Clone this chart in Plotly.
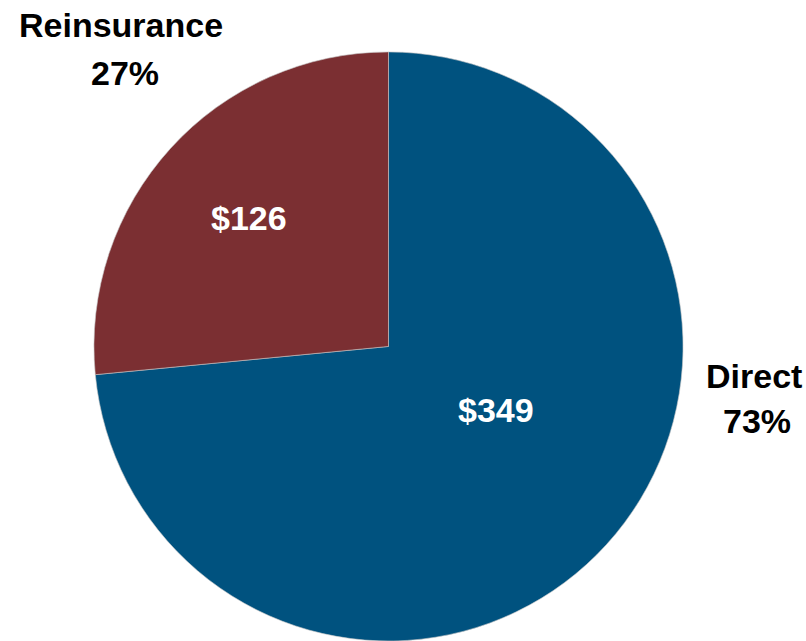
import plotly.graph_objects as go

labels = ["Direct", "Reinsurance"]
values = [349, 126]
colors = ["#00527F", "#7B2F32"]

total = sum(values)
pcts = [round(v / total * 100) for v in values]

fig = go.Figure()
fig.add_trace(go.Pie(
    labels=labels,
    values=values,
    sort=False,
    direction="clockwise",
    rotation=0,
    marker=dict(colors=colors, line=dict(color="#C8C8C8", width=0.6)),
    textinfo="none",
    hoverinfo="label+value+percent",
    showlegend=False,
    domain=dict(x=[0.1135, 0.8505], y=[0.0, 0.919]),
))

FONT = "Liberation Sans, Arial, sans-serif"
label_font = dict(family=FONT, size=34, color="black", weight="bold")
value_font = dict(family=FONT, size=34, color="white", weight="bold")
# text positions in pixels (layout only)
pos = {
    "Direct": [(754, 376), (757, 421), (496, 410)],
    "Reinsurance": [(121, 25), (125, 73), (249, 218)],
}
for lab, v, p in zip(labels, values, pcts):
    (x1, y1), (x2, y2), (x3, y3) = pos[lab]
    fig.add_annotation(x=x1 / 806, y=1 - y1 / 641, xref="paper", yref="paper",
                       text=lab, showarrow=False, font=label_font,
                       xanchor="center", yanchor="middle")
    fig.add_annotation(x=x2 / 806, y=1 - y2 / 641, xref="paper", yref="paper",
                       text=f"{p}%", showarrow=False, font=label_font,
                       xanchor="center", yanchor="middle")
    fig.add_annotation(x=x3 / 806, y=1 - y3 / 641, xref="paper", yref="paper",
                       text=f"${v}", showarrow=False, font=value_font,
                       xanchor="center", yanchor="middle")

fig.update_layout(
    width=806, height=641,
    margin=dict(l=0, r=0, t=0, b=0),
    paper_bgcolor="white", plot_bgcolor="white",
)
fig.write_html("out.html")
